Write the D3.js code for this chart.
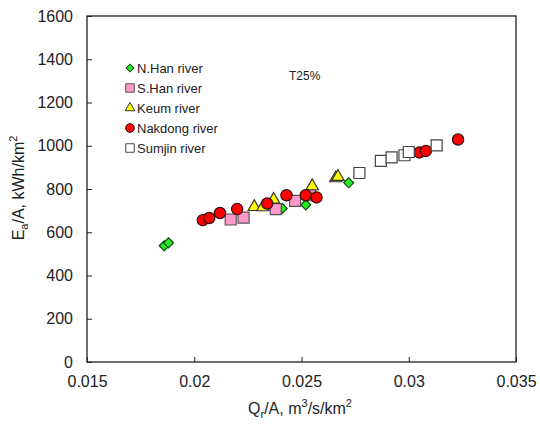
<!DOCTYPE html>
<html>
<head>
<meta charset="utf-8">
<script src="https://cdn.jsdelivr.net/npm/d3@7"></script>
<style>
  body { margin: 0; background: #fff; }
  svg text { font-family: "Liberation Sans", Arial, sans-serif; fill: #222; }
</style>
</head>
<body>
<svg id="chart" width="540" height="426"></svg>
<script>
/* DATA */
const nHanX = [0.0186, 0.0188, 0.0241, 0.0252, 0.0272];
const nHanY = [537, 551, 710, 727, 829];

const sHanX = [0.0217, 0.0223, 0.0238, 0.0247, 0.0254];
const sHanY = [659, 668, 707, 745, 771];

const keumX = [0.0228, 0.0232, 0.0237, 0.0255, 0.0266, 0.0267];
const keumY = [717, 716, 751, 813, 850, 856];

const nakX = [0.0204, 0.0207, 0.0212, 0.0220, 0.0234, 0.0243, 0.0252, 0.0257, 0.0305, 0.0308, 0.0323];
const nakY = [656, 666, 689, 707, 733, 771, 771, 761, 969, 976, 1029];

const sumX = [0.0277, 0.0287, 0.0292, 0.0298, 0.0300, 0.0313];
const sumY = [874, 930, 946, 956, 971, 1002];

const xTicks = [0.015, 0.02, 0.025, 0.03, 0.035];
const yTicks = [0, 200, 400, 600, 800, 1000, 1200, 1400, 1600];

const series = [
  { name: "N.Han river",   xs: nHanX, ys: nHanY, shape: "diamond",  fill: "#22ee22", stroke: "#114411" },
  { name: "S.Han river",   xs: sHanX, ys: sHanY, shape: "square",   fill: "#ff99cc", stroke: "#555" },
  { name: "Keum river",    xs: keumX, ys: keumY, shape: "triangle", fill: "#ffff00", stroke: "#333" },
  { name: "Nakdong river", xs: nakX,  ys: nakY,  shape: "circle",   fill: "#ff0000", stroke: "#331111" },
  { name: "Sumjin river",  xs: sumX,  ys: sumY,  shape: "square",   fill: "#ffffff", stroke: "#444" }
];

/* SCALES */
const plotL = 87, plotR = 516, plotT = 16, plotB = 362;
const x = d3.scaleLinear().domain([0.015, 0.035]).range([plotL, plotR]);
const y = d3.scaleLinear().domain([0, 1600]).range([plotB, plotT]);

const svg = d3.select("#chart");

/* frame */
svg.append("rect")
  .attr("x", plotL).attr("y", plotT)
  .attr("width", plotR - plotL).attr("height", plotB - plotT)
  .attr("fill", "none").attr("stroke", "#222").attr("stroke-width", 1.3);

/* AXES */
const xAxis = svg.append("g")
  .attr("transform", `translate(0,${plotB})`)
  .call(d3.axisBottom(x).tickValues(xTicks).tickSize(-5).tickPadding(14)
    .tickFormat(d => String(+d.toFixed(3))));
const yAxis = svg.append("g")
  .attr("transform", `translate(${plotL},0)`)
  .call(d3.axisLeft(y).tickValues(yTicks).tickSize(-5).tickPadding(14)
    .tickFormat(d3.format("d")));

[xAxis, yAxis].forEach(a => {
  a.select(".domain").remove();
  a.selectAll(".tick line").attr("stroke", "#222");
  a.selectAll(".tick text").style("font-size", "16px").attr("fill", "#222");
});
xAxis.selectAll(".tick text").attr("dy", "0.71em");

/* axis titles */
const xt = svg.append("text")
  .attr("x", 300).attr("y", 414)
  .attr("text-anchor", "middle").style("font-size", "16px");
xt.append("tspan").text("Q");
xt.append("tspan").attr("dy", 4).style("font-size", "11px").text("r");
xt.append("tspan").attr("dy", -4).text("/A, m");
xt.append("tspan").attr("dy", -7).style("font-size", "11px").text("3");
xt.append("tspan").attr("dy", 7).text("/s/km");
xt.append("tspan").attr("dy", -7).style("font-size", "11px").text("2");

const yt = svg.append("text")
  .attr("transform", "translate(24,188) rotate(-90)")
  .attr("text-anchor", "middle").style("font-size", "16px");
yt.append("tspan").text("E");
yt.append("tspan").attr("dy", 4).style("font-size", "11px").text("a");
yt.append("tspan").attr("dy", -4).text("/A, kWh/km");
yt.append("tspan").attr("dy", -7).style("font-size", "11px").text("2");

/* MARKERS */
function symbolPath(shape, scale) {
  const k = scale || 1;
  if (shape === "circle") return d3.symbol(d3.symbolCircle, 100 * k)();
  if (shape === "square") return d3.symbol(d3.symbolSquare, 121 * k)();
  if (shape === "triangle") return d3.symbol(d3.symbolTriangle, 66 * k)();
  return d3.symbol(d3.symbolSquare, 50 * k)();
}

series.forEach(s => {
  const pts = s.xs.map((v, i) => ({ x: v, y: s.ys[i] }));
  svg.append("g").selectAll("path")
    .data(pts)
    .enter()
    .append("path")
    .attr("d", symbolPath(s.shape))
    .attr("transform", d => `translate(${x(d.x)},${y(d.y)})` + (s.shape === "diamond" ? " rotate(45)" : ""))
    .attr("fill", s.fill)
    .attr("stroke", s.stroke)
    .attr("stroke-width", 1.2);
});

/* LEGEND */
const legend = svg.append("g");
series.forEach((s, i) => {
  const ly = 68 + i * 20;
  legend.append("path")
    .attr("d", symbolPath(s.shape, 0.6))
    .attr("transform", `translate(130,${ly})` + (s.shape === "diamond" ? " rotate(45)" : ""))
    .attr("fill", s.fill)
    .attr("stroke", s.stroke)
    .attr("stroke-width", 1);
  legend.append("text")
    .attr("x", 137).attr("y", ly + 5)
    .style("font-size", "13px")
    .text(s.name);
});

svg.append("text")
  .attr("x", 289).attr("y", 80)
  .style("font-size", "12px")
  .text("T25%");
</script>
</body>
</html>
